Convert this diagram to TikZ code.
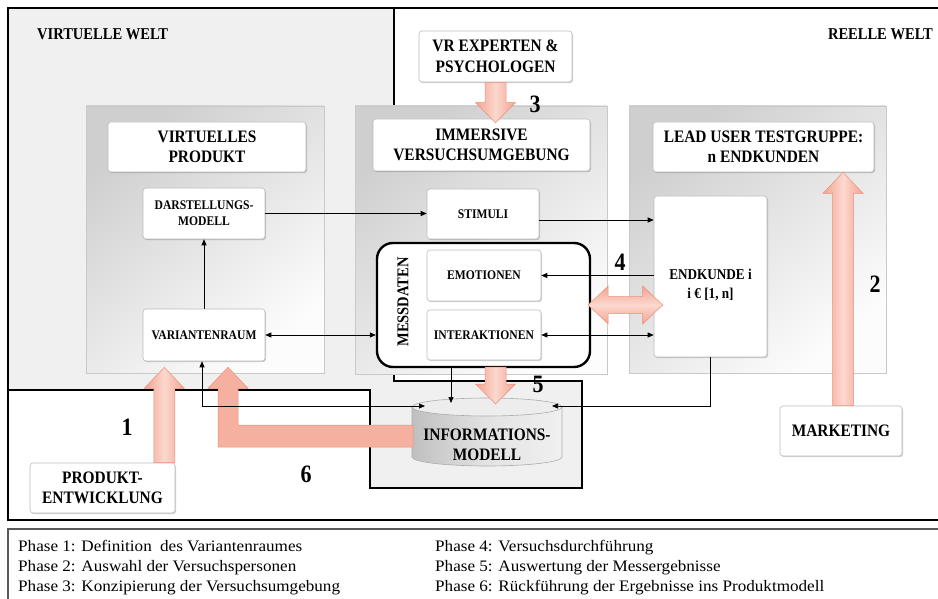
\documentclass[tikz,border=0pt]{standalone}
\usepackage{fontspec}
\setmainfont{Liberation Serif}[FakeStretch=0.88]
\newfontfamily\legendfont{Liberation Serif}[FakeStretch=1.07]
\usetikzlibrary{arrows.meta,calc,shadows}

\definecolor{pkA}{HTML}{F3A390}
\definecolor{pkB}{HTML}{FCD8CE}
\definecolor{pkD}{HTML}{E8917C}
\definecolor{vwfill}{HTML}{F0F0F0}
\definecolor{boxline}{HTML}{BBBBBB}

% fat arrows (canvas coordinates taken from named anchors)
\newcommand\fatup[2]{\path[fatv] let \p1=(#1),\p2=(#2) in
 (\x1-10.5pt,\y1) -- (\x1-10.5pt,\y2-21pt) -- (\x1-20pt,\y2-21pt) -- (\x1,\y2) --
 (\x1+20pt,\y2-21pt) -- (\x1+10.5pt,\y2-21pt) -- (\x1+10.5pt,\y1) -- cycle;}
\newcommand\fatdown[2]{\path[fatv] let \p1=(#1),\p2=(#2) in
 (\x1-10.5pt,\y1) -- (\x1-10.5pt,\y2+20pt) -- (\x1-20pt,\y2+20pt) -- (\x1,\y2) --
 (\x1+20pt,\y2+20pt) -- (\x1+10.5pt,\y2+20pt) -- (\x1+10.5pt,\y1) -- cycle;}
\newcommand\fatdbl[2]{\path[fath] let \p1=(#1),\p2=(#2) in
 (\x1,\y1) -- (\x1+20pt,\y1+19pt) -- (\x1+20pt,\y1+8.5pt) -- (\x2-20pt,\y1+8.5pt) --
 (\x2-20pt,\y1+19pt) -- (\x2,\y1) -- (\x2-20pt,\y1-19pt) -- (\x2-20pt,\y1-8.5pt) --
 (\x1+20pt,\y1-8.5pt) -- (\x1+20pt,\y1-19pt) -- cycle;}
\newcommand\fatL[2]{\path[fatl] let \p1=(#1),\p2=(#2) in
 (\x1,\y1+11pt) -- (\x2+10pt,\y1+11pt) -- (\x2+10pt,\y2-21pt) -- (\x2+20pt,\y2-21pt) --
 (\x2,\y2) -- (\x2-20pt,\y2-21pt) -- (\x2-10pt,\y2-21pt) -- (\x2-10pt,\y1-11pt) --
 (\x1,\y1-11pt) -- cycle;}

\tikzset{
 wbox/.style={draw=boxline, line width=0.6pt, fill=white, rounded corners=3pt,
   drop shadow={shadow xshift=1pt, shadow yshift=-1.2pt, fill=black, opacity=0.18},
   inner sep=0pt, align=center},
 bigbox/.style={wbox, font=\bfseries\fontsize{17.5}{20.5}\selectfont},
 smallbox/.style={wbox, font=\bfseries\fontsize{13.2}{16}\selectfont},
 panelbox/.style={draw=boxline!80, line width=0.6pt, inner sep=0pt,
   top color=gray!38, bottom color=gray!2, shading angle=40},
 thinarr/.style={-{Triangle[length=6pt,width=5pt]}, line width=0.7pt},
 thindarr/.style={{Triangle[length=6pt,width=5pt]}-{Triangle[length=6pt,width=5pt]}, line width=0.7pt},
 numlbl/.style={font=\bfseries\fontsize{25}{25}\selectfont, inner sep=0pt},
 worldlbl/.style={font=\bfseries\fontsize{16.5}{18}\selectfont, inner sep=0pt},
 leg/.style={font=\legendfont\fontsize{16}{20}\selectfont, inner sep=0pt, anchor=base west},
 fatv/.style={draw=pkD, line width=0.5pt, left color=pkA, right color=pkA, middle color=pkB},
 fath/.style={draw=pkD, line width=0.5pt, top color=pkA, bottom color=pkA, middle color=pkB},
 fatl/.style={draw=pkD, line width=0.5pt, fill=pkA!75!pkB},
}

\begin{document}
\begin{tikzpicture}[x=1pt,y=-1pt]
\useasboundingbox (0,0) rectangle (938,599);
\fill[white] (0,0) rectangle (938,599);

% virtual world region
\fill[vwfill] (8,8) -- (394,8) -- (394,381) -- (582,381) -- (582,488) -- (370,488) -- (370,390) -- (8,390) -- cycle;
\draw[line width=1.4pt] (394,8) -- (394,381) -- (582,381);
\draw[line width=2.2pt, line join=miter] (8,390) -- (370,390) -- (370,488) -- (582,488) -- (582,380.3);

% outer frame and legend frame
\draw[line width=1.8pt] (938,8) -- (8,8) -- (8,520) -- (938,520);
\draw[gray!70!black, line width=1.2pt] (938,529) -- (8,529) -- (8,599);

% world labels
\node[worldlbl, anchor=west] (vw) at (37,34) {VIRTUELLE WELT};
\node[worldlbl, anchor=east] (rw) at (933,34) {REELLE WELT};

% panels
\node[panelbox, minimum width=238pt, minimum height=267pt] (p1) at (205,239.5) {};
\node[panelbox, minimum width=252pt, minimum height=268pt] (p2) at (481,240) {};
\node[panelbox, minimum width=257pt, minimum height=267pt] (p3) at (757.5,239.5) {};

% title boxes
\node[bigbox, minimum width=198pt, minimum height=50pt] (vp) at (207,147) {VIRTUELLES\\PRODUKT};
\node[bigbox, minimum width=217pt, minimum height=52pt] (ive) at (481.5,145) {IMMERSIVE\\VERSUCHSUMGEBUNG};
\node[bigbox, minimum width=221pt, minimum height=50pt] (lut) at (763.5,147) {LEAD USER TESTGRUPPE:\\n ENDKUNDEN};
\node[bigbox, minimum width=153pt, minimum height=51pt] (vrx) at (495.5,56.5) {VR EXPERTEN \&\\PSYCHOLOGEN};
\node[bigbox, minimum width=145pt, minimum height=50pt] (pe) at (102.5,488) {PRODUKT-\\ENTWICKLUNG};
\node[bigbox, minimum width=122pt, minimum height=50pt] (mk) at (841,431) {MARKETING};

% inner boxes
\node[smallbox, minimum width=122pt, minimum height=51pt] (dm) at (204,213.5) {DARSTELLUNGS-\\MODELL};
\node[smallbox, minimum width=112pt, minimum height=50pt] (st) at (483,214) {STIMULI};
\node[smallbox, minimum width=122pt, minimum height=52pt] (vr) at (204,335) {VARIANTENRAUM};

% Messdaten
\node[draw, line width=2.4pt, rounded corners=16pt, fill=white, minimum width=213pt, minimum height=124pt, inner sep=0pt] (md) at (483.5,305) {};
\node[rotate=90, font=\bfseries\fontsize{16.5}{18}\selectfont, inner sep=0pt] (mdt) at (403,302) {MESSDATEN};
\node[smallbox, minimum width=114pt, minimum height=51pt] (em) at (484,275.5) {EMOTIONEN};
\node[smallbox, minimum width=114pt, minimum height=50pt] (ia) at (484,335) {INTERAKTIONEN};

% Endkunde
\node[wbox, minimum width=113pt, minimum height=161pt] (ek) at (710.5,276.5) {};
\node[font=\bfseries\fontsize{15}{19}\selectfont, align=center, inner sep=0pt] (ekt) at (710.5,285) {ENDKUNDE i\\i € [1, n]};

% Informationsmodell (cylinder)
\node[minimum width=150pt, minimum height=68pt, inner sep=0pt] (im) at (487,432) {};
\path[draw=gray!65, line width=0.6pt, left color=gray!50, right color=gray!12, middle color=gray!22]
  (412,407) -- (412,457) arc[start angle=180, end angle=360, x radius=75pt, y radius=9pt] -- (562,407) -- cycle;
\path[draw=gray!65, line width=0.6pt, fill=gray!14] (487,407) ellipse[x radius=75pt, y radius=9pt];
\node[font=\bfseries\fontsize{17.5}{20}\selectfont, align=center, inner sep=0pt] (imt) at (487,445) {INFORMATIONS-\\MODELL};

\coordinate (imL) at (425,406);
\coordinate (imT) at (451,403);
\coordinate (imR) at (552,406);
\coordinate (imTip) at (496,404);
\coordinate (im6) at (413,436);

% fat arrows
\fatdown{vrx.south}{$(ive.north)+(0,4)$}
\fatdown{$(md.south)+(12,-1)$}{imTip}
\fatup{$(mk.north)+(2,0)$}{lut.south}
\fatup{$(pe.north east)+(-11,0)$}{$(vr.south)+(0,6)$}
\fatL{im6}{$(vr.south)+(24,6)$}
\fatdbl{$(md.east)+(-3,0)$}{$(ek.west)+(9,0)$}

% thin connectors
\draw[thinarr] (dm.east) -- (dm.east -| st.west);
\draw[thinarr] (vr.north) -- (dm.south);
\draw[thindarr] (vr.east) -- (vr.east -| md.west);
\coordinate (stout) at ($(st.east)+(0,6)$);
\draw[thinarr] (stout) -- (stout -| ek.west);
\draw[thinarr] (em.east -| ek.west) -- (em.east);
\draw[thindarr] (ia.east) -- (ia.east -| ek.west);
\draw[thinarr] (md.south -| imT) -- (imT);
\draw[thindarr] ($(vr.south)+(-2,0)$) |- (imL);
\draw[thinarr] (ek.south) |- (imR);

% phase numbers
\node[numlbl] (n1) at (127,427) {1};
\node[numlbl] (n2) at (875,284) {2};
\node[numlbl] (n3) at (535,104) {3};
\node[numlbl] (n4) at (620,262) {4};
\node[numlbl] (n5) at (538,384) {5};
\node[numlbl] (n6) at (306,474) {6};

% legend
\node[leg] (l1) at (18,551) {Phase 1: Definition\hspace{4pt} des Variantenraumes};
\node[leg] (l2) at (18,571) {Phase 2: Auswahl der Versuchspersonen};
\node[leg] (l3) at (18,591) {Phase 3: Konzipierung der Versuchsumgebung};
\node[leg] (l4) at (435,551) {Phase 4: Versuchsdurchführung};
\node[leg] (l5) at (435,571) {Phase 5: Auswertung der Messergebnisse};
\node[leg] (l6) at (435,591) {Phase 6: Rückführung der Ergebnisse ins Produktmodell};
\end{tikzpicture}
\end{document}
